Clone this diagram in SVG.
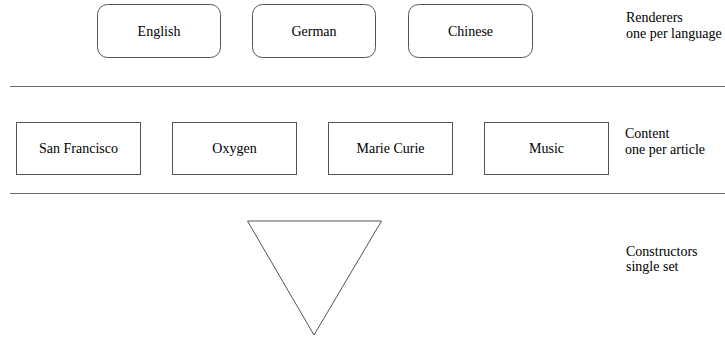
<svg xmlns="http://www.w3.org/2000/svg" width="725" height="337" viewBox="0 0 725 337">
<style>
.box{fill:#fff;stroke:#555;stroke-width:1}
.sep{stroke:#666;stroke-width:1}
</style>
<rect width="725" height="337" fill="#fff"/>
<g id="separators">
<line class="sep" x1="10" y1="86.5" x2="725" y2="86.5"/>
<line class="sep" x1="10" y1="193.5" x2="725" y2="193.5"/>
</g>
<g id="english"><rect class="box" x="97.5" y="4.5" width="123" height="53" rx="10"/><text font-family="Liberation Serif" font-size="14" text-anchor="middle" x="159" y="36">English</text></g>
<g id="german"><rect class="box" x="252.5" y="4.5" width="123" height="53" rx="10"/><text font-family="Liberation Serif" font-size="14" text-anchor="middle" x="314" y="36">German</text></g>
<g id="chinese"><rect class="box" x="408.5" y="4.5" width="124" height="53" rx="10"/><text font-family="Liberation Serif" font-size="14" text-anchor="middle" x="470.5" y="36">Chinese</text></g>
<g id="renderers-label"><text font-family="Liberation Serif" font-size="14" x="626" y="22">Renderers</text><text font-family="Liberation Serif" font-size="14" x="626" y="38">one per language</text></g>
<g id="san-francisco"><rect class="box" x="16.5" y="122.5" width="124" height="52"/><text font-family="Liberation Serif" font-size="14" text-anchor="middle" x="78.5" y="153">San Francisco</text></g>
<g id="oxygen"><rect class="box" x="172.5" y="122.5" width="124" height="52"/><text font-family="Liberation Serif" font-size="14" text-anchor="middle" x="234.5" y="153">Oxygen</text></g>
<g id="marie-curie"><rect class="box" x="328.5" y="122.5" width="124" height="52"/><text font-family="Liberation Serif" font-size="14" text-anchor="middle" x="390.5" y="153">Marie Curie</text></g>
<g id="music"><rect class="box" x="484.5" y="122.5" width="124" height="52"/><text font-family="Liberation Serif" font-size="14" text-anchor="middle" x="546.5" y="153">Music</text></g>
<g id="content-label"><text font-family="Liberation Serif" font-size="14" x="625" y="138">Content</text><text font-family="Liberation Serif" font-size="14" x="625" y="154">one per article</text></g>
<g id="constructors"><polygon class="box" points="247.5,221 381.5,221 314,335"/></g>
<g id="constructors-label"><text font-family="Liberation Serif" font-size="14" x="626" y="256">Constructors</text><text font-family="Liberation Serif" font-size="14" x="626" y="271">single set</text></g>
<g id="connectors"></g>
</svg>
